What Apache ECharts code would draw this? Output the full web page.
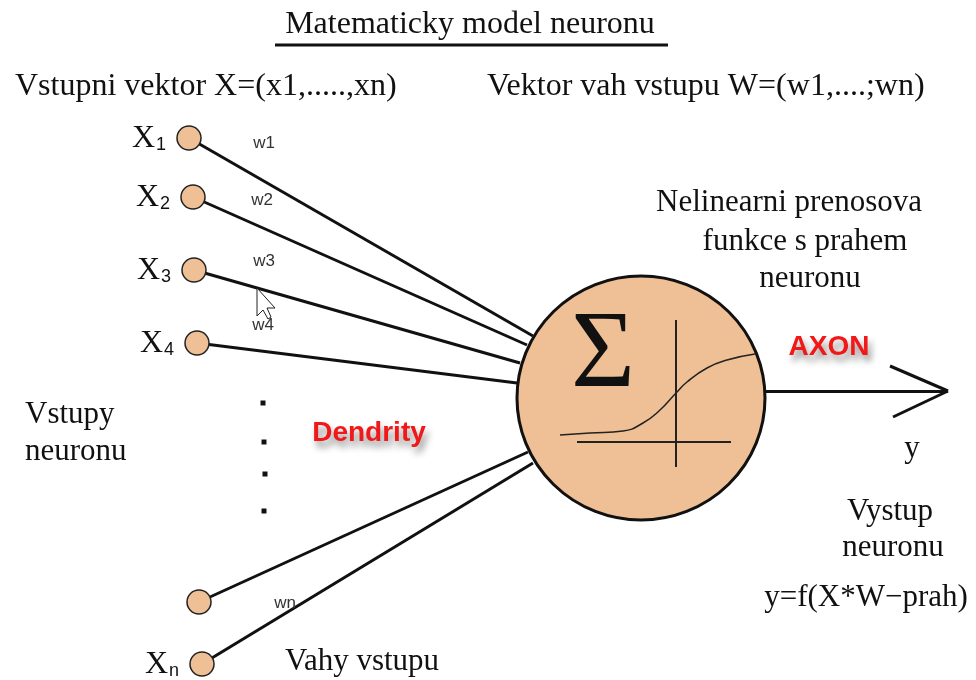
<!DOCTYPE html>
<html>
<head>
<meta charset="utf-8">
<script src="https://cdn.jsdelivr.net/npm/echarts@6/dist/echarts.min.js"></script>
<style>
    html, body { margin: 0; padding: 0; background: #fff; }
    #chart { width: 976px; height: 680px; }
</style>
</head>
<body>
<div id="chart"></div>
<script>
// input nodes x1..x4, x(n-1), xn  (picture coords)
var inputNodes = [[189, 138], [193, 197], [194, 270], [197, 343], [199, 602], [202, 664]];
// where each dendrite meets the neuron body
var dendriteEnds = [[533, 336], [527, 345], [520, 363], [517, 383], [528, 452], [533, 463]];
var inputLabels = ['1', '2', '3', '4', '', 'n'];
var weightLabels = ['w1', 'w2', 'w3', 'w4', 'wn'];
var weightPos = [[264, 143], [262, 200], [264, 261], [263, 325], [285, 603]];
var ellipsisDots = [[263, 403], [264, 442], [265, 474], [264, 511]];
var neuronBody = [[641, 398]];
// threshold transfer function drawn inside the body
var sigmoidCurve = [[560, 435], [590, 433], [623, 431], [643, 423], [660, 410], [676, 393],
    [687, 382], [707, 368], [727, 360], [755, 354]];
var fnAxisV = [[676, 320], [676, 467]];
var fnAxisH = [[577, 442], [731, 442]];
var axon = [[765, 391], [948, 391]];
var arrowBarbs = [[[890, 366], [948, 391]], [[893, 417], [948, 391]]];

var peach = '#EFC095';
var serif = '"Liberation Serif", "DejaVu Serif", serif';
var sans = '"Liberation Sans", Arial, sans-serif';

var chart = echarts.init(document.getElementById('chart'));

function txt(x, y, text, style, align) {
    return {
        type: 'text',
        x: x,
        y: y,
        z: 10,
        style: Object.assign({
            text: text,
            fill: '#111',
            font: '31px ' + serif,
            textAlign: align || 'center',
            textVerticalAlign: 'middle'
        }, style || {})
    };
}

var redShadow = {
    fill: '#F01818', font: 'bold 28px ' + sans,
    textShadowColor: 'rgba(0,0,0,0.45)', textShadowBlur: 7, textShadowOffsetX: 3, textShadowOffsetY: 6
};

var graphics = [
    txt(470, 25, 'Matematicky model neuronu', { font: '32px ' + serif }),
    { type: 'line', z: 10, shape: { x1: 275, y1: 45, x2: 668, y2: 45 }, style: { stroke: '#111', lineWidth: 3 } },
    txt(15, 87, 'Vstupni vektor X=(x1,.....,xn)', { font: '32px ' + serif }, 'left'),
    txt(487, 87, 'Vektor vah vstupu W=(w1,....;wn)', { font: '32px ' + serif }, 'left'),
    txt(789, 203, 'Nelinearni prenosova'),
    txt(805, 242, 'funkce s prahem'),
    txt(810, 279, 'neuronu'),
    txt(25, 415, 'Vstupy', null, 'left'),
    txt(25, 452, 'neuronu', null, 'left'),
    txt(912, 449, 'y'),
    txt(890, 512, 'Vystup'),
    txt(893, 548, 'neuronu'),
    txt(866, 598, 'y=f(X*W\u2212prah)'),
    txt(362, 662, 'Vahy vstupu'),
    txt(603, 357, '\u03A3', { font: '110px ' + serif }),
    txt(369, 433, 'Dendrity', redShadow),
    txt(829, 347, 'AXON', redShadow),
    {
        // mouse pointer left in the original screenshot
        type: 'polygon', z: 11,
        shape: { points: [[257, 288], [257, 316], [263, 310], [268, 319], [271, 317], [267, 308], [275, 308]] },
        style: { fill: '#fff', stroke: '#222', lineWidth: 1 }
    }
];

inputNodes.forEach(function (p, i) {
    if (!inputLabels[i]) return;
    graphics.push({
        type: 'text', z: 10, x: p[0] - 57, y: p[1] + 1,
        style: {
            rich: {
                x: { font: '32px ' + serif, fill: '#111' },
                s: { font: '18px ' + sans, fill: '#111', padding: [12, 0, 0, 1] }
            },
            text: '{x|X}{s|' + inputLabels[i] + '}',
            textVerticalAlign: 'middle'
        }
    });
});

weightLabels.forEach(function (w, i) {
    graphics.push(txt(weightPos[i][0], weightPos[i][1], w, { font: '17px ' + sans, fill: '#333' }));
});

chart.setOption({
    backgroundColor: '#ffffff',
    animation: false,
    grid: { left: 0, right: 0, top: 0, bottom: 0 },
    xAxis: { type: 'value', min: 0, max: 976, show: false },
    yAxis: { type: 'value', min: 0, max: 680, inverse: true, show: false },
    graphic: graphics,
    series: [
        {
            type: 'lines',
            coordinateSystem: 'cartesian2d',
            z: 2,
            lineStyle: { color: '#111', width: 3, opacity: 1 },
            data: inputNodes.map(function (p, i) {
                return { coords: [p, dendriteEnds[i]] };
            })
        },
        {
            type: 'lines',
            coordinateSystem: 'cartesian2d',
            z: 2,
            lineStyle: { color: '#111', width: 3, opacity: 1 },
            data: [{ coords: axon }].concat(arrowBarbs.map(function (b) {
                return { coords: b };
            }))
        },
        {
            type: 'scatter',
            z: 3,
            data: neuronBody,
            symbol: 'circle',
            symbolSize: [248, 244],
            itemStyle: { color: peach, borderColor: '#111', borderWidth: 3, opacity: 1 }
        },
        {
            type: 'line',
            z: 5,
            data: sigmoidCurve,
            smooth: true,
            showSymbol: false,
            lineStyle: { color: '#222', width: 1.5 }
        },
        {
            type: 'line',
            z: 5,
            data: fnAxisV,
            showSymbol: false,
            lineStyle: { color: '#222', width: 2 }
        },
        {
            type: 'line',
            z: 5,
            data: fnAxisH,
            showSymbol: false,
            lineStyle: { color: '#222', width: 2 }
        },
        {
            type: 'scatter',
            z: 4,
            data: inputNodes,
            symbol: 'circle',
            symbolSize: 24,
            itemStyle: { color: peach, borderColor: '#222', borderWidth: 1.5, opacity: 1 }
        },
        {
            type: 'scatter',
            z: 4,
            data: ellipsisDots,
            symbol: 'rect',
            symbolSize: 5,
            itemStyle: { color: '#111', opacity: 1 }
        }
    ]
});
</script>
</body>
</html>
